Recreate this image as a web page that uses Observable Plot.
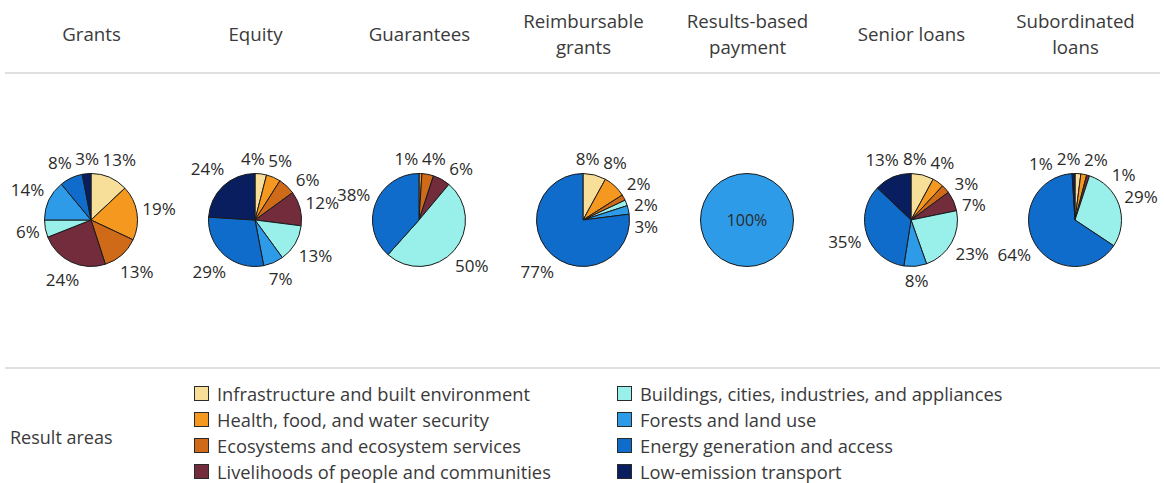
<!DOCTYPE html>
<html>
<head>
<meta charset="utf-8">
<script src="https://cdn.jsdelivr.net/npm/d3@7"></script>
<script src="https://cdn.jsdelivr.net/npm/@observablehq/plot@0.6"></script>
<style>
  html, body { margin: 0; padding: 0; background: #fff; }
  body { width: 1164px; height: 483px; overflow: hidden; font-family: "Open Sans", sans-serif; color: #3a3a3a; }
  #legend { position: relative; width: 1164px; height: 113px; font-size: 18.3px; }
  #legend .ttl { position: absolute; left: 10px; top: 55px; line-height: 24px; font-size: 18px; }
  #legend .item { position: absolute; height: 26px; display: flex; align-items: center; white-space: nowrap; }
  #legend .sw { width: 13px; height: 13px; border: 1.5px solid #2a2a2a; margin-right: 8px; flex: none; }
</style>
</head>
<body>
<div id="chart"></div>
<script>
// ---- data ----
const instruments = ["Grants", "Equity", "Guarantees", "Reimbursable grants", "Results-based payment", "Senior loans", "Subordinated loans"];
const instrumentTitles = ["Grants", "Equity", "Guarantees", "Reimbursable\ngrants", "Results-based\npayment", "Senior loans", "Subordinated\nloans"];
const areas = [
  "Infrastructure and built environment",
  "Health, food, and water security",
  "Ecosystems and ecosystem services",
  "Livelihoods of people and communities",
  "Buildings, cities, industries, and appliances",
  "Forests and land use",
  "Energy generation and access",
  "Low-emission transport"
];
const areaColors = ["#f7df99", "#f4981f", "#cf6a18", "#722c3c", "#99efe9", "#2d9be8", "#0f6ccb", "#081e5e"];
// shares (%) in the order of `areas`
const grants               = [13, 19, 13, 24, 6, 14, 8, 3];
const equity               = [4, 5, 6, 12, 13, 7, 29, 24];
const guarantees           = [0, 1, 4, 6, 50, 0, 38, 0];
const reimbursableGrants   = [8, 8, 2, 0, 2, 3, 77, 0];
const resultsBasedPayment  = [0, 0, 0, 0, 0, 100, 0, 0];
const seniorLoans          = [8, 4, 3, 7, 23, 8, 35, 13];
const subordinatedLoans    = [2, 2, 0, 1, 29, 0, 64, 1];
const seriesByInstrument = [grants, equity, guarantees, reimbursableGrants, resultsBasedPayment, seniorLoans, subordinatedLoans];

const rows = [];
instruments.forEach((inst, i) => {
  seriesByInstrument[i].forEach((v, j) => { if (v > 0) rows.push({instrument: inst, area: areas[j], value: v}); });
});
const colorOf = d3.scaleOrdinal(areas, areaColors);

// ---- pie mark (custom render using Plot's x/y scales) ----
const R = 46.5, LFS = 17;
function labelWidth(t) { return ((t.length - 1) * 0.572 + 0.855) * LFS; }
function placeLabels(arcs) {
  const labs = arcs.map(d => {
    let a = (d.startAngle + d.endAngle) / 2;
    if (a > Math.PI) a -= 2 * Math.PI;
    const text = d.data.value + "%";
    return {a, text, w: labelWidth(text), h: 20};
  });
  const pos = l => {
    const s = Math.sin(l.a), c = Math.cos(l.a);
    const r = R + 4 + (l.w / 2) * Math.abs(s) + (l.h / 2) * Math.abs(c);
    return [r * s, -r * c];
  };
  labs.sort((p, q) => p.a - q.a);
  const overlap = (p, q) => {
    const [x1, y1] = pos(p), [x2, y2] = pos(q);
    return Math.abs(x1 - x2) < (p.w + q.w) / 2 + 3 && Math.abs(y1 - y2) < 21;
  };
  for (let it = 0; it < 4000; it++) {
    let moved = false;
    for (let i = 0; i < labs.length; i++) {
      for (let j = i + 1; j < labs.length; j++) {
        if (overlap(labs[i], labs[j])) { labs[i].a -= 0.006; labs[j].a += 0.006; moved = true; }
      }
    }
    if (!moved) break;
  }
  return labs.map(l => ({...l, xy: pos(l)}));
}

function pies(index, scales) {
  const g = d3.create("svg:g");
  const pie = d3.pie().sort(null).value(d => d.value);
  const arc = d3.arc().innerRadius(0).outerRadius(R);
  const cy = scales.y(0.5);
  for (const inst of instruments) {
    const data = rows.filter(r => r.instrument === inst);
    const arcs = pie(data);
    const cx = scales.x(inst);
    const pg = g.append("g").attr("transform", `translate(${cx},${cy})`);
    pg.selectAll("path").data(arcs).join("path")
      .attr("d", arc)
      .attr("fill", d => colorOf(d.data.area))
      .attr("stroke", "#1a1a1a")
      .attr("stroke-width", 1)
      .attr("stroke-linejoin", "round");
    const single = data.length === 1;
    const labs = single ? [{text: data[0].value + "%", xy: [0, 0]}] : placeLabels(arcs);
    pg.selectAll("text").data(labs).join("text")
      .attr("x", d => d.xy[0])
      .attr("y", d => d.xy[1])
      .attr("dy", "0.35em")
      .attr("text-anchor", "middle")
      .attr("font-size", single ? 16 : LFS)
      .attr("fill", "#2a2a2a")
      .text(d => d.text);
  }
  return g.node();
}

const chart = Plot.plot({
  width: 1164,
  height: 370,
  marginTop: 0, marginBottom: 0, marginLeft: 5, marginRight: 4,
  x: {type: "point", domain: instruments, range: [6, 1159], padding: 0.5, axis: null},
  y: {domain: [0, 1], range: [72.5, 367.5], axis: null},
  style: {fontFamily: "Open Sans", fontSize: "16px", color: "#3a3a3a", background: "#fff"},
  marks: [
    Plot.ruleY([0, 1], {stroke: "#d6d6d6", strokeWidth: 1.5}),
    Plot.text(instruments, {
      x: d => d,
      text: (d, i) => instrumentTitles[i],
      frameAnchor: "top",
      dy: 32,
      lineAnchor: "middle",
      lineHeight: 1.4,
      fontSize: 18.7,
      fill: "#3a3a3a"
    }),
    pies
  ]
});
document.getElementById("chart").appendChild(chart);

// ---- legend (HTML, below the SVG) ----
const legend = document.createElement("div");
legend.id = "legend";
legend.innerHTML = `<div class="ttl">Result areas</div>`;
areas.forEach((a, i) => {
  const col = Math.floor(i / 4), row = i % 4;
  const item = document.createElement("div");
  item.className = "item";
  item.style.left = (col === 0 ? 194 : 617) + "px";
  item.style.top = (10 + row * 26) + "px";
  item.innerHTML = `<span class="sw" style="background:${areaColors[i]}"></span><span>${a}</span>`;
  legend.appendChild(item);
});
document.body.appendChild(legend);
</script>
</body>
</html>
